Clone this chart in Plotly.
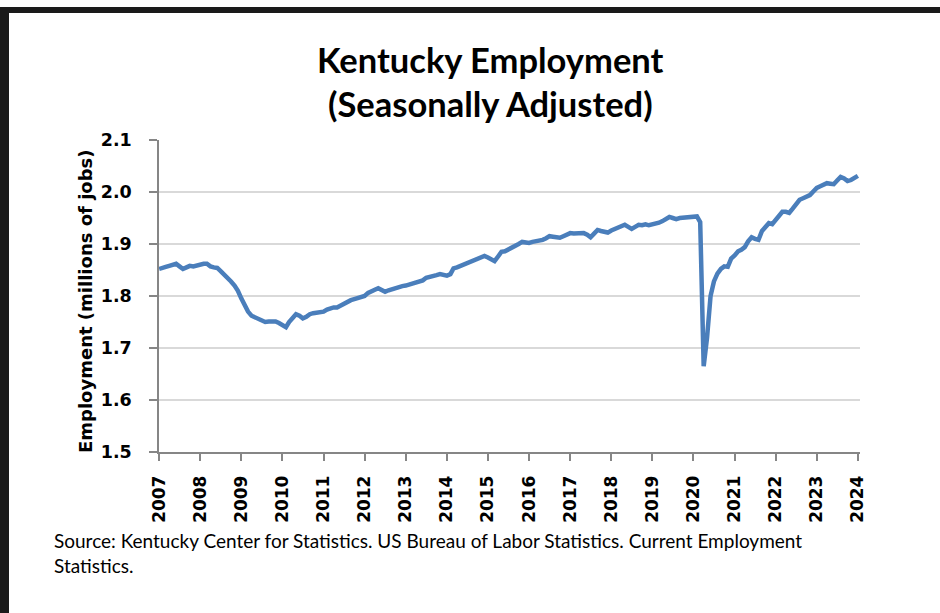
import pandas as pd
import plotly.graph_objects as go

# Monthly Kentucky nonfarm employment (millions), Jan 2007 - Jan 2024
emp_2007 = [1.852, 1.853, 1.856, 1.858, 1.861, 1.862, 1.857, 1.852, 1.855, 1.858, 1.857, 1.859]
emp_2008 = [1.861, 1.862, 1.862, 1.857, 1.855, 1.854, 1.848, 1.842, 1.835, 1.828, 1.820, 1.810]
emp_2009 = [1.795, 1.780, 1.770, 1.762, 1.759, 1.756, 1.752, 1.750, 1.751, 1.752, 1.751, 1.748]
emp_2010 = [1.744, 1.740, 1.750, 1.758, 1.765, 1.762, 1.757, 1.760, 1.765, 1.767, 1.768, 1.770]
emp_2011 = [1.770, 1.774, 1.776, 1.778, 1.778, 1.782, 1.786, 1.790, 1.792, 1.794, 1.796, 1.797]
emp_2012 = [1.800, 1.806, 1.810, 1.812, 1.815, 1.811, 1.808, 1.811, 1.813, 1.816, 1.819, 1.819]
emp_2013 = [1.820, 1.822, 1.823, 1.825, 1.827, 1.830, 1.835, 1.836, 1.838, 1.840, 1.842, 1.841]
emp_2014 = [1.839, 1.842, 1.853, 1.855, 1.858, 1.861, 1.863, 1.865, 1.868, 1.871, 1.874, 1.877]
emp_2015 = [1.874, 1.870, 1.867, 1.876, 1.885, 1.886, 1.889, 1.892, 1.896, 1.900, 1.904, 1.903]
emp_2016 = [1.902, 1.904, 1.905, 1.907, 1.908, 1.911, 1.915, 1.914, 1.913, 1.912, 1.915, 1.918]
emp_2017 = [1.921, 1.920, 1.921, 1.920, 1.921, 1.918, 1.913, 1.920, 1.927, 1.925, 1.923, 1.922]
emp_2018 = [1.926, 1.929, 1.931, 1.935, 1.937, 1.933, 1.929, 1.933, 1.937, 1.936, 1.938, 1.936]
emp_2019 = [1.937, 1.938, 1.941, 1.944, 1.948, 1.952, 1.950, 1.948, 1.950, 1.951, 1.952, 1.951]
emp_2020 = [1.954, 1.953, 1.942, 1.665, 1.720, 1.800, 1.828, 1.843, 1.852, 1.857, 1.856, 1.872]
emp_2021 = [1.878, 1.886, 1.889, 1.894, 1.905, 1.913, 1.910, 1.908, 1.925, 1.933, 1.940, 1.938]
emp_2022 = [1.946, 1.953, 1.962, 1.962, 1.960, 1.968, 1.978, 1.985, 1.988, 1.991, 1.994, 2.001]
emp_2023 = [2.008, 2.011, 2.014, 2.017, 2.016, 2.015, 2.022, 2.029, 2.026, 2.021, 2.023, 2.027]
emp_2024 = [2.031]

employment = (emp_2007 + emp_2008 + emp_2009 + emp_2010 + emp_2011 + emp_2012 + emp_2013
              + emp_2014 + emp_2015 + emp_2016 + emp_2017 + emp_2018 + emp_2019 + emp_2020
              + emp_2021 + emp_2022 + emp_2023 + emp_2024)
months = pd.date_range("2007-01-01", periods=len(employment), freq="MS")

year_ticks = [str(y) for y in range(2007, 2025)]
tick_dates = [f"{y}-01-01" for y in year_ticks]
y_ticks = [1.5, 1.6, 1.7, 1.8, 1.9, 2.0, 2.1]
y_tick_labels = ["1.5", "1.6", "1.7", "1.8", "1.9", "2.0", "2.1"]

title_1 = "Kentucky Employment"
title_2 = "(Seasonally Adjusted)"
y_title = "Employment (millions of jobs)"
source_text = ("Source: Kentucky Center for Statistics. US Bureau of Labor Statistics. Current Employment"
               "<br>Statistics.")

L, R, T, B = 159, 80, 140, 161
W, H = 940, 613
PW, PH = W - L - R, H - T - B

def px(x):
    return (x - L) / PW

def py(y):
    return (H - B - y) / PH

fig = go.Figure()
fig.add_trace(go.Scatter(
    x=months, y=employment, mode="lines",
    line=dict(color="#4a7ebb", width=4.5),
    hoverinfo="x+y",
))

fig.update_layout(
    width=W, height=H,
    margin=dict(l=L, r=R, t=T, b=B),
    paper_bgcolor="#ffffff", plot_bgcolor="#ffffff",
    showlegend=False,
    xaxis=dict(
        range=["2006-12-31", "2024-01-20"],
        tickvals=tick_dates, ticktext=year_ticks,
        tickangle=-90,
        tickfont=dict(family="DejaVu Sans", size=17, color="#000000", weight="bold"),
        ticklabelstandoff=8,
        showgrid=False, zeroline=False,
        showline=True, linecolor="#868686", linewidth=1.5,
        ticks="outside", ticklen=7, tickcolor="#868686", tickwidth=1.5,
    ),
    yaxis=dict(
        range=[1.5, 2.1],
        tickvals=y_ticks, ticktext=y_tick_labels,
        tickfont=dict(family="DejaVu Sans", size=17.5, color="#000000", weight="bold"),
        ticklabelstandoff=14,
        showgrid=True, gridcolor="#d9d9d9", gridwidth=1.5,
        zeroline=False,
        showline=True, linecolor="#868686", linewidth=1.5,
        ticks="outside", ticklen=8, tickcolor="#868686", tickwidth=1.5,
    ),
)

annotations = [
    dict(text=f"<b>{title_1}</b>", x=px(490), y=py(59), xref="paper", yref="paper",
         showarrow=False, font=dict(family="Lato", size=34.5, color="#000000"),
         xanchor="center", yanchor="middle"),
    dict(text=f"<b>{title_2}</b>", x=px(490), y=py(104), xref="paper", yref="paper",
         showarrow=False, font=dict(family="Lato", size=34.5, color="#000000"),
         xanchor="center", yanchor="middle"),
    dict(text=f"<b>{y_title}</b>", x=px(85), y=py(301), xref="paper", yref="paper",
         showarrow=False, textangle=-90, font=dict(family="DejaVu Sans", size=18, color="#000000"),
         xanchor="center", yanchor="middle"),
    dict(text=source_text, x=px(52), y=py(527), xref="paper", yref="paper",
         showarrow=False, align="left", font=dict(family="Lato", size=19, color="#000000"),
         xanchor="left", yanchor="top"),
]
fig.update_layout(annotations=annotations)

# Frame border: top and left black bands
fig.add_shape(type="rect", xref="paper", yref="paper",
              x0=px(0), x1=px(940), y0=py(13), y1=py(7),
              fillcolor="#1a1a1a", line=dict(width=0), layer="above")
fig.add_shape(type="rect", xref="paper", yref="paper",
              x0=px(0), x1=px(9), y0=py(613), y1=py(7),
              fillcolor="#1a1a1a", line=dict(width=0), layer="above")

fig.write_html("out.html")
